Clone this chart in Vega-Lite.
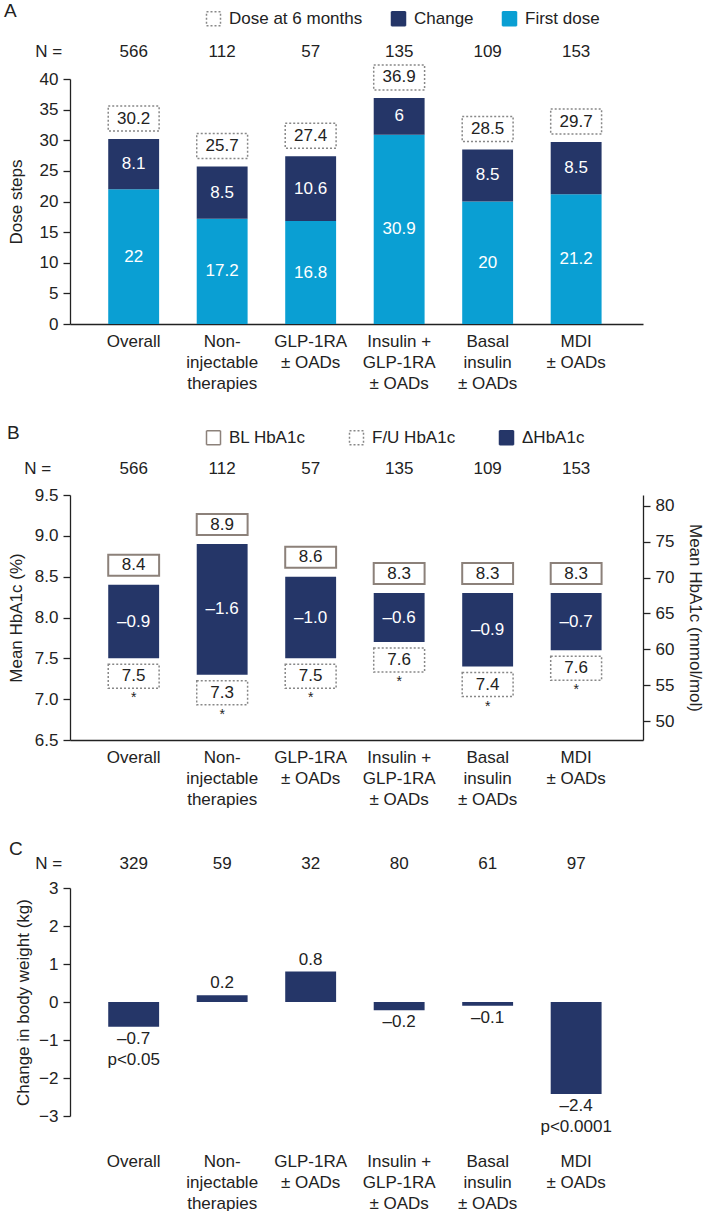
{
  "$schema": "https://vega.github.io/schema/vega-lite/v6.json",
  "padding": {"left": 4, "top": 2, "right": 0, "bottom": 0},
  "spacing": 33,
  "resolve": {"scale": {"fill": "independent"}, "legend": {"fill": "independent"}},
  "config": {
    "font": "Liberation Sans",
    "view": {"stroke": null},
    "axis": {"labelFont": "Liberation Sans", "titleFont": "Liberation Sans", "labelFontSize": 17, "titleFontSize": 17, "titleFontWeight": "normal", "labelColor": "#222", "titleColor": "#222", "domainColor": "#222", "tickColor": "#222", "domainWidth": 1.3, "tickWidth": 1.3, "tickSize": 7, "labelPadding": 5, "grid": false},
    "text": {"font": "Liberation Sans", "fontSize": 17, "color": "#222"},
    "legend": {"labelFont": "Liberation Sans", "labelFontSize": 17, "labelColor": "#222", "symbolType": "square", "symbolSize": 196, "labelOffset": 7, "symbolStrokeWidth": 1.5},
    "title": {"font": "Liberation Sans", "fontSize": 19, "fontWeight": "normal", "color": "#222"}
  },
  "vconcat": [
    {
      "width": 573, "height": 245,
      "title": {"text": "A", "anchor": "start", "frame": "group", "dx": -66, "dy": 15},
      "data": {"values": [
        {"group": "Overall", "n": 566, "first": 22, "change": 8.1, "total": 30.2},
        {"group": "Non-injectable therapies", "n": 112, "first": 17.2, "change": 8.5, "total": 25.7},
        {"group": "GLP-1RA ± OADs", "n": 57, "first": 16.8, "change": 10.6, "total": 27.4},
        {"group": "Insulin + GLP-1RA ± OADs", "n": 135, "first": 30.9, "change": 6, "total": 36.9},
        {"group": "Basal insulin ± OADs", "n": 109, "first": 20, "change": 8.5, "total": 28.5},
        {"group": "MDI ± OADs", "n": 153, "first": 21.2, "change": 8.5, "total": 29.7}
      ]},
      "transform": [
        {"calculate": "datum.first / 2", "as": "mid_first"},
        {"calculate": "(datum.first + datum.total) / 2", "as": "mid_change"}
      ],
      "encoding": {
        "x": {"field": "group", "type": "nominal", "sort": null,
          "scale": {"domain": ["Overall", "Non-injectable therapies", "GLP-1RA ± OADs", "Insulin + GLP-1RA ± OADs", "Basal insulin ± OADs", "MDI ± OADs"], "paddingInner": 0.425, "paddingOuter": 0.45, "align": 0.48},
          "axis": {"title": null, "ticks": false, "labelAngle": 0, "labelPadding": 9, "labelLineHeight": 21, "labelBaseline": "top",
            "labelExpr": "datum.value == 'Non-injectable therapies' ? ['Non-', 'injectable', 'therapies'] : datum.value == 'GLP-1RA ± OADs' ? ['GLP-1RA', '± OADs'] : datum.value == 'Insulin + GLP-1RA ± OADs' ? ['Insulin +', 'GLP-1RA', '± OADs'] : datum.value == 'Basal insulin ± OADs' ? ['Basal', 'insulin', '± OADs'] : datum.value == 'MDI ± OADs' ? ['MDI', '± OADs'] : datum.value"}},
        "y": {"type": "quantitative", "scale": {"domain": [0, 40], "nice": false}, "title": "Dose steps",
          "axis": {"tickCount": 8, "labelOverlap": false, "titlePadding": 14}}
      },
      "layer": [
        {"mark": {"type": "bar"},
          "encoding": {
            "y": {"field": "first"},
            "fill": {"datum": "First dose",
              "scale": {"domain": ["Dose at 6 months", "Change", "First dose"], "range": ["#ffffff", "#253668", "#0a9fd3"]},
              "legend": {"orient": "none", "legendX": 135, "legendY": -69, "direction": "horizontal", "title": null, "columnPadding": 25,
                "encode": {"symbols": {"update": {
                  "stroke": {"signal": "datum.value === 'Dose at 6 months' ? '#888888' : datum.value === 'Change' ? '#253668' : '#0a9fd3'"},
                  "strokeDash": {"signal": "datum.value === 'Dose at 6 months' ? [2, 2] : [1, 0]"}}}}}}
          }},
        {"mark": {"type": "bar"},
          "encoding": {
            "y": {"field": "first"},
            "y2": {"field": "total"},
            "fill": {"datum": "Change"}
          }},
        {"mark": {"type": "rect", "stroke": "#888888", "strokeWidth": 1.5, "strokeDash": [2, 2], "yOffset": -33, "y2Offset": -8},
          "encoding": {
            "y": {"field": "total"},
            "y2": {"field": "total"},
            "fill": {"datum": "Dose at 6 months"}
          }},
        {"mark": {"type": "text", "dy": -20.5},
          "encoding": {"y": {"field": "total"}, "text": {"field": "total", "type": "quantitative"}}},
        {"mark": {"type": "text", "color": "white"},
          "encoding": {"y": {"field": "mid_first"}, "text": {"field": "first", "type": "quantitative"}}},
        {"mark": {"type": "text", "color": "white"},
          "encoding": {"y": {"field": "mid_change"}, "text": {"field": "change", "type": "quantitative"}}},
        {"mark": {"type": "text"},
          "encoding": {"y": {"datum": 44.4}, "text": {"field": "n", "type": "quantitative"}}},
        {"data": {"values": [{"t": "N ="}]},
          "mark": {"type": "text", "dx": -85},
          "encoding": {"x": {"datum": "Overall"}, "y": {"datum": 44.4}, "text": {"field": "t"}}}
      ]
    },
    {
      "width": 573, "height": 245,
      "title": {"text": "B", "anchor": "start", "frame": "group", "dx": -63, "dy": 18},
      "data": {"values": [
        {"group": "Overall", "n": 566, "bl": 8.4, "fu": 7.5, "top": 8.4, "bottom": 7.5, "delta": "–0.9"},
        {"group": "Non-injectable therapies", "n": 112, "bl": 8.9, "fu": 7.3, "top": 8.9, "bottom": 7.3, "delta": "–1.6"},
        {"group": "GLP-1RA ± OADs", "n": 57, "bl": 8.6, "fu": 7.5, "top": 8.5, "bottom": 7.5, "delta": "–1.0"},
        {"group": "Insulin + GLP-1RA ± OADs", "n": 135, "bl": 8.3, "fu": 7.6, "top": 8.3, "bottom": 7.7, "delta": "–0.6"},
        {"group": "Basal insulin ± OADs", "n": 109, "bl": 8.3, "fu": 7.4, "top": 8.3, "bottom": 7.4, "delta": "–0.9"},
        {"group": "MDI ± OADs", "n": 153, "bl": 8.3, "fu": 7.6, "top": 8.3, "bottom": 7.6, "delta": "–0.7"}
      ]},
      "transform": [{"calculate": "(datum.top + datum.bottom) / 2", "as": "mid"}],
      "resolve": {"scale": {"y": "independent"}},
      "layer": [
        {
          "encoding": {
            "x": {"field": "group", "type": "nominal", "sort": null,
              "scale": {"domain": ["Overall", "Non-injectable therapies", "GLP-1RA ± OADs", "Insulin + GLP-1RA ± OADs", "Basal insulin ± OADs", "MDI ± OADs"], "paddingInner": 0.425, "paddingOuter": 0.45, "align": 0.48},
              "axis": {"title": null, "ticks": false, "labelAngle": 0, "labelPadding": 9, "labelLineHeight": 21, "labelBaseline": "top",
                "labelExpr": "datum.value == 'Non-injectable therapies' ? ['Non-', 'injectable', 'therapies'] : datum.value == 'GLP-1RA ± OADs' ? ['GLP-1RA', '± OADs'] : datum.value == 'Insulin + GLP-1RA ± OADs' ? ['Insulin +', 'GLP-1RA', '± OADs'] : datum.value == 'Basal insulin ± OADs' ? ['Basal', 'insulin', '± OADs'] : datum.value == 'MDI ± OADs' ? ['MDI', '± OADs'] : datum.value"}}
          },
          "layer": [
            {"mark": {"type": "bar"},
              "encoding": {
                "y": {"field": "top", "type": "quantitative", "scale": {"domain": [6.5, 9.5], "nice": false, "zero": false}, "title": "Mean HbA1c (%)",
                  "axis": {"values": [6.5, 7, 7.5, 8, 8.5, 9, 9.5], "format": ".1f", "labelOverlap": false, "titlePadding": 9}},
                "y2": {"field": "bottom"},
                "fill": {"datum": "ΔHbA1c",
                  "scale": {"domain": ["BL HbA1c", "F/U HbA1c", "ΔHbA1c"], "range": ["#ffffff", "#ffffff", "#253668"]},
                  "legend": {"orient": "none", "legendX": 135, "legendY": -66, "direction": "horizontal", "title": null, "columnPadding": 40,
                    "encode": {"symbols": {"update": {
                      "stroke": {"signal": "datum.value === 'BL HbA1c' ? '#8c817a' : datum.value === 'F/U HbA1c' ? '#888888' : '#253668'"},
                      "strokeDash": {"signal": "datum.value === 'F/U HbA1c' ? [2, 2] : [1, 0]"}}}}}}
              }},
            {"mark": {"type": "rect", "stroke": "#8c817a", "strokeWidth": 2, "yOffset": -30, "y2Offset": -9},
              "encoding": {"y": {"field": "top", "type": "quantitative"}, "y2": {"field": "top"}, "fill": {"datum": "BL HbA1c"}}},
            {"mark": {"type": "rect", "stroke": "#888888", "strokeWidth": 1.5, "strokeDash": [2, 2], "yOffset": 6, "y2Offset": 30},
              "encoding": {"y": {"field": "bottom", "type": "quantitative"}, "y2": {"field": "bottom"}, "fill": {"datum": "F/U HbA1c"}}},
            {"mark": {"type": "text", "dy": -19.5},
              "encoding": {"y": {"field": "top", "type": "quantitative"}, "text": {"field": "bl", "type": "quantitative", "format": ".1f"}}},
            {"mark": {"type": "text", "dy": 18},
              "encoding": {"y": {"field": "bottom", "type": "quantitative"}, "text": {"field": "fu", "type": "quantitative", "format": ".1f"}}},
            {"mark": {"type": "text", "dy": 40, "fontSize": 14},
              "encoding": {"y": {"field": "bottom", "type": "quantitative"}, "text": {"value": "*"}}},
            {"mark": {"type": "text", "color": "white"},
              "encoding": {"y": {"field": "mid", "type": "quantitative"}, "text": {"field": "delta"}}},
            {"mark": {"type": "text"},
              "encoding": {"y": {"datum": 9.82}, "text": {"field": "n", "type": "quantitative"}}},
            {"data": {"values": [{"t": "N ="}]},
              "mark": {"type": "text", "dx": -96},
              "encoding": {"x": {"datum": "Overall"}, "y": {"datum": 9.82}, "text": {"field": "t"}}}
          ]
        },
        {"mark": {"type": "rule", "opacity": 0},
          "encoding": {"y": {"datum": 50, "type": "quantitative", "scale": {"domain": [47.35, 81.53], "nice": false, "zero": false},
            "axis": {"orient": "right", "title": "Mean HbA1c (mmol/mol)", "values": [50, 55, 60, 65, 70, 75, 80], "labelOverlap": false, "titlePadding": 12}}}}
      ]
    },
    {
      "width": 573, "height": 228,
      "title": {"text": "C", "anchor": "start", "frame": "group", "dx": -61, "dy": 8},
      "data": {"values": [
        {"group": "Overall", "n": 329, "change": -0.65, "label": "–0.7", "p": "p<0.05"},
        {"group": "Non-injectable therapies", "n": 59, "change": 0.18, "label": "0.2"},
        {"group": "GLP-1RA ± OADs", "n": 32, "change": 0.8, "label": "0.8"},
        {"group": "Insulin + GLP-1RA ± OADs", "n": 80, "change": -0.22, "label": "–0.2"},
        {"group": "Basal insulin ± OADs", "n": 61, "change": -0.1, "label": "–0.1"},
        {"group": "MDI ± OADs", "n": 97, "change": -2.42, "label": "–2.4", "p": "p<0.0001"}
      ]},
      "encoding": {
        "x": {"field": "group", "type": "nominal", "sort": null,
          "scale": {"domain": ["Overall", "Non-injectable therapies", "GLP-1RA ± OADs", "Insulin + GLP-1RA ± OADs", "Basal insulin ± OADs", "MDI ± OADs"], "paddingInner": 0.425, "paddingOuter": 0.45, "align": 0.48},
          "axis": {"title": null, "ticks": false, "domain": false, "labelAngle": 0, "labelPadding": 37, "labelLineHeight": 21, "labelBaseline": "top",
            "labelExpr": "datum.value == 'Non-injectable therapies' ? ['Non-', 'injectable', 'therapies'] : datum.value == 'GLP-1RA ± OADs' ? ['GLP-1RA', '± OADs'] : datum.value == 'Insulin + GLP-1RA ± OADs' ? ['Insulin +', 'GLP-1RA', '± OADs'] : datum.value == 'Basal insulin ± OADs' ? ['Basal', 'insulin', '± OADs'] : datum.value == 'MDI ± OADs' ? ['MDI', '± OADs'] : datum.value"}},
        "y": {"type": "quantitative", "scale": {"domain": [-3, 3], "nice": false}, "title": "Change in body weight (kg)",
          "axis": {"tickCount": 6, "format": "d", "labelOverlap": false, "titlePadding": 6}}
      },
      "layer": [
        {"mark": {"type": "bar", "color": "#253668"},
          "encoding": {"y": {"field": "change"}}},
        {"mark": {"type": "rule", "color": "#222", "strokeWidth": 1.3},
          "encoding": {"y": {"datum": 0}}},
        {"transform": [{"filter": "datum.change > 0"}],
          "mark": {"type": "text", "baseline": "bottom", "dy": -3},
          "encoding": {"y": {"field": "change"}, "text": {"field": "label"}}},
        {"transform": [{"filter": "datum.change < 0"}],
          "mark": {"type": "text", "baseline": "top", "dy": 4},
          "encoding": {"y": {"field": "change"}, "text": {"field": "label"}}},
        {"transform": [{"filter": "isValid(datum.p)"}],
          "mark": {"type": "text", "baseline": "top", "dy": 25},
          "encoding": {"y": {"field": "change"}, "text": {"field": "p"}}},
        {"mark": {"type": "text"},
          "encoding": {"y": {"datum": 3.62}, "text": {"field": "n", "type": "quantitative"}}},
        {"data": {"values": [{"t": "N ="}]},
          "mark": {"type": "text", "dx": -85},
          "encoding": {"x": {"datum": "Overall"}, "y": {"datum": 3.62}, "text": {"field": "t"}}}
      ]
    }
  ]
}
